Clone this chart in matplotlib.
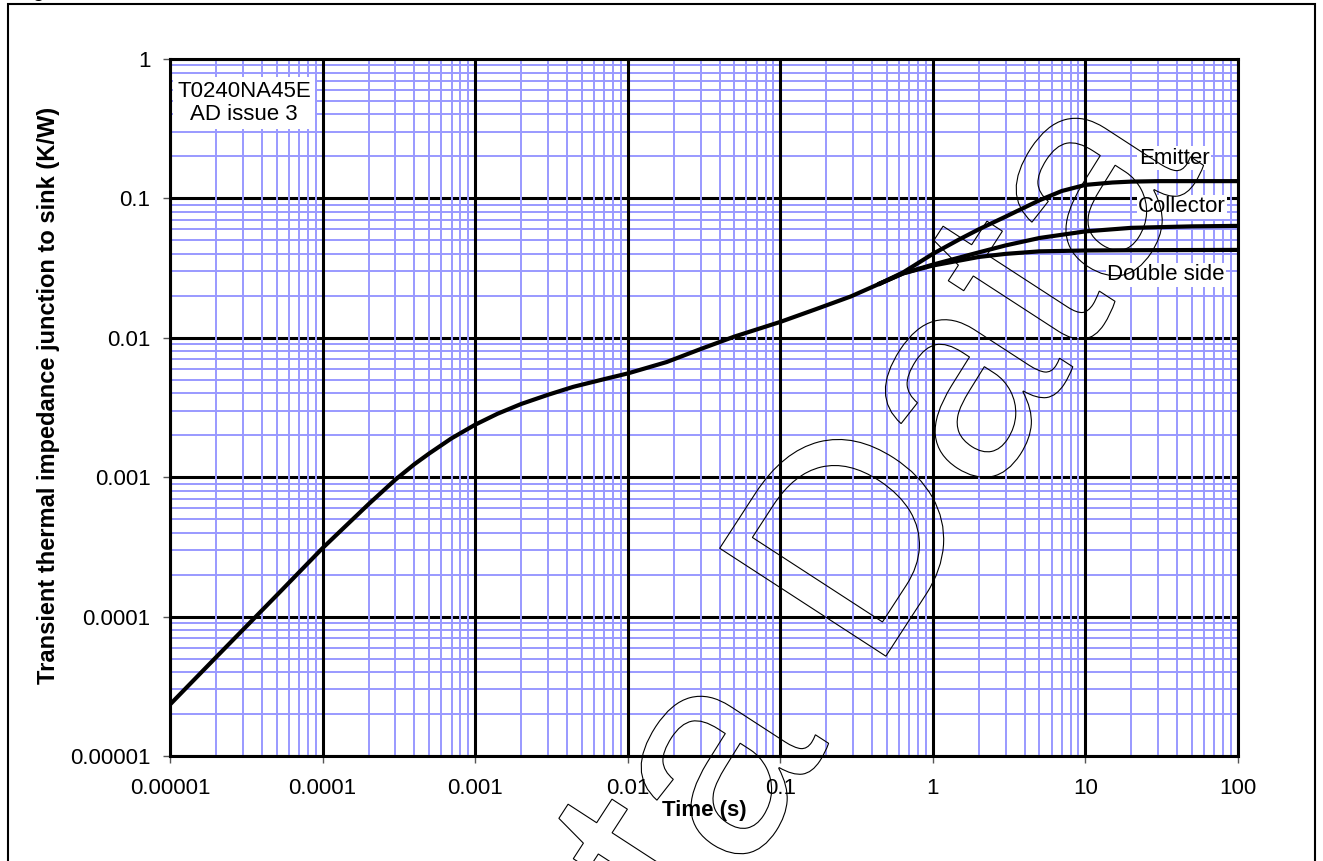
# libraries
import matplotlib
matplotlib.use("Agg")
import matplotlib.pyplot as plt
from matplotlib.textpath import TextPath
from matplotlib.patches import PathPatch, Rectangle
from matplotlib.font_manager import FontProperties
import matplotlib.transforms as mtransforms

# figure size in pixels
WIDTH = 1323
HEIGHT = 861
DPI = 100

# shared part of the curve (s, K/W)
time_common = [1e-5, 2e-5, 5e-5, 1e-4, 2e-4, 3e-4, 4e-4, 5e-4, 7e-4, 1e-3,
               1.4e-3, 2e-3, 3e-3, 4.4e-3, 7e-3, 1e-2, 1.8e-2, 3e-2, 5e-2,
               0.1, 0.17, 0.29, 0.45]
z_common = [2.34e-5, 5.1e-5, 1.42e-4, 3.1e-4, 6.4e-4, 9.6e-4, 1.24e-3,
            1.48e-3, 1.9e-3, 2.38e-3, 2.85e-3, 3.35e-3, 3.9e-3, 4.45e-3,
            5.05e-3, 5.55e-3, 6.7e-3, 8.3e-3, 1.02e-2, 1.3e-2, 1.6e-2,
            1.98e-2, 2.45e-2]

# branches after they split
time_emitter = [0.45, 0.64, 1, 1.5, 2, 3, 5, 7, 10, 15, 20, 30, 100]
z_emitter = [0.0245, 0.0295, 0.040, 0.051, 0.060, 0.074, 0.097, 0.113,
             0.125, 0.130, 0.132, 0.133, 0.133]

time_collector = [0.45, 0.64, 1, 2, 3, 5, 10, 20, 50, 100]
z_collector = [0.0245, 0.029, 0.0335, 0.041, 0.046, 0.052, 0.058, 0.0615,
               0.063, 0.0635]

time_double = [0.45, 0.64, 1, 2, 3, 5, 10, 20, 100]
z_double = [0.0245, 0.029, 0.033, 0.038, 0.040, 0.0417, 0.0423, 0.0425,
            0.0427]

x_ticks = [1e-5, 1e-4, 1e-3, 1e-2, 1e-1, 1, 10, 100]
x_labels = ["0.00001", "0.0001", "0.001", "0.01", "0.1", "1", "10", "100"]
y_ticks = [1e-5, 1e-4, 1e-3, 1e-2, 1e-1, 1]
y_labels = ["0.00001", "0.0001", "0.001", "0.01", "0.1", "1"]

MINOR_COLOR = "#9999ff"


def px(x, y):
    # image pixel (top-left origin) -> figure fraction
    return x / WIDTH, 1 - y / HEIGHT


def minors(ticks):
    # 2..9 in each decade between the major ticks
    out = []
    for d in ticks[:-1]:
        out += [d * m for m in range(2, 10)]
    return out


def watermark(fig, x0, y0):
    # outlined "Data" stamp, rotated like the pdf overlay
    tp = TextPath((0, 0), "Data", size=288,
                  prop=FontProperties(family="Liberation Sans"))
    tr = mtransforms.Affine2D().rotate_deg(57).translate(x0, y0)
    patch = PathPatch(tp, transform=tr, facecolor="none",
                      edgecolor="black", lw=0.8, zorder=50)
    fig.add_artist(patch)


def main():
    plt.rcParams["font.family"] = ["Liberation Sans", "DejaVu Sans"]

    fig = plt.figure(figsize=(WIDTH / DPI, HEIGHT / DPI), dpi=DPI)
    l, t = px(170, 59)
    r, b = px(1238, 756)
    ax = fig.add_axes([l, b, r - l, t - b])

    ax.set_xscale("log")
    ax.set_yscale("log")
    ax.set_xlim(1e-5, 100)
    ax.set_ylim(1e-5, 1)

    # grid in excel order: horizontal first, then vertical on top
    ax.hlines(minors(y_ticks), 0, 1, transform=ax.get_yaxis_transform(),
              color=MINOR_COLOR, lw=1.4, zorder=0.1)
    ax.hlines(y_ticks, 0, 1, transform=ax.get_yaxis_transform(),
              color="black", lw=2.2, zorder=0.2)
    ax.vlines(minors(x_ticks), 0, 1, transform=ax.get_xaxis_transform(),
              color=MINOR_COLOR, lw=1.4, zorder=0.3)
    ax.vlines(x_ticks, 0, 1, transform=ax.get_xaxis_transform(),
              color="black", lw=2.2, zorder=0.4)
    for s in ax.spines.values():
        s.set_linewidth(2.2)
        s.set_color("black")

    ax.set_xticks(x_ticks)
    ax.set_xticklabels(x_labels)
    ax.set_yticks(y_ticks)
    ax.set_yticklabels(y_labels)
    ax.minorticks_off()
    ax.tick_params(which="major", length=5, width=1, color="#555555",
                   labelsize=16)
    ax.tick_params(axis="x", pad=11)
    ax.tick_params(axis="y", pad=9)

    # curves
    for xs, ys in [(time_common, z_common), (time_emitter, z_emitter),
                   (time_collector, z_collector), (time_double, z_double)]:
        ax.plot(xs, ys, color="black", lw=3.0, zorder=5,
                solid_joinstyle="round")

    ax.set_xlabel("Time (s)", fontsize=16, fontweight="bold")
    ax.xaxis.set_label_coords(0.5, -0.0775)
    ax.xaxis.label.set_va("center")
    ax.set_ylabel("Transient thermal impedance junction to sink (K/W)",
                  fontsize=17, fontweight="bold")
    ax.yaxis.set_label_coords(-0.1142, 0.518)
    ax.yaxis.label.set_va("center")

    # labels on the plot
    box = dict(facecolor="white", edgecolor="none", pad=1)
    ax.text(*px(244, 103), "T0240NA45E\nAD issue 3", transform=fig.transFigure,
            ha="center", va="center", fontsize=16, linespacing=1.15,
            bbox=dict(facecolor="white", edgecolor="none", pad=3), zorder=6)
    ax.text(*px(1174, 158), "Emitter", transform=fig.transFigure,
            ha="center", va="center", fontsize=16, bbox=box, zorder=6)
    ax.text(*px(1182, 207), "Collector", transform=fig.transFigure,
            ha="center", va="center", fontsize=16, bbox=box, zorder=6)
    ax.text(*px(1166, 275), "Double side", transform=fig.transFigure,
            ha="center", va="center", fontsize=16, bbox=box, zorder=6)

    # page frame and the cut-off caption above it
    fig.add_artist(Rectangle(px(8, 900), (1315 - 8) / WIDTH, (900 - 4) / HEIGHT,
                             transform=fig.transFigure, facecolor="none",
                             edgecolor="black", lw=1.5))
    fig.text(*px(14, -4), "Fig", fontsize=16, va="baseline", ha="left")

    # watermark
    watermark(fig, 873, 185)
    watermark(fig, 498, -393)

    fig.savefig("out.png", dpi=DPI)


# execute code only if file is not imported
if __name__ == "__main__":
    main()
